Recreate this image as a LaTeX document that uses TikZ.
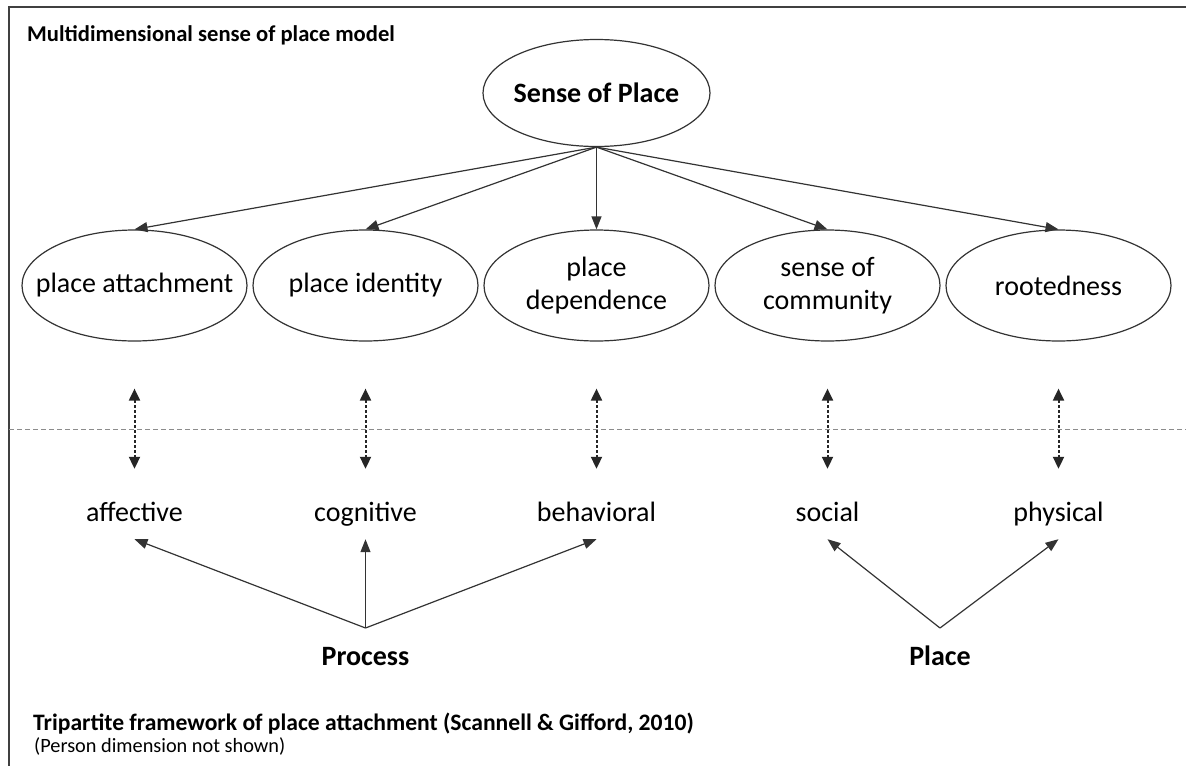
\documentclass[tikz,border=0pt]{standalone}
\usepackage{fontspec}
\setmainfont{Carlito}
\usetikzlibrary{shapes.geometric,arrows.meta}

\tikzset{
    oval/.style={ellipse, draw=black!80, line width=1.2pt, minimum width=225pt,
        minimum height=111pt, inner sep=0pt, align=center,
        font=\fontsize{28}{33}\selectfont},
    dim/.style={font=\fontsize{28}{33}\selectfont, text height=20pt,
        text depth=6pt, inner sep=12pt},
    caption/.style={anchor=base west, inner sep=0pt,
        font=\fontsize{22.6}{22}\selectfont\bfseries},
    link/.style={draw=black!80, line width=1.2pt, -{Triangle[length=13pt,width=10pt]}},
    updown/.style={black!85, line width=2pt, dash pattern=on 3pt off 2pt,
        {Triangle[length=12pt,width=11pt]}-{Triangle[length=12pt,width=11pt]},
        shorten <=47pt, shorten >=20pt},
}

\begin{document}
\begin{tikzpicture}[x=1pt, y=-1pt]
        \useasboundingbox (0,0) rectangle (1186,766);
        \draw[black!75, line width=1.5pt] (1186,7) -- (9,7) -- (9,766);

        \node[caption] (title) at (27,41) {Multidimensional sense of place model};

        \node[oval, font=\fontsize{28}{33}\selectfont\bfseries, minimum width=227pt,
            minimum height=107pt] (sop) at (596.5,93) {\makebox[0pt]{Sense of Place}};

        \node[oval] (pa) at (134.5,285.5) {\makebox[0pt]{place attachment}};
        \node[oval, right of=pa, node distance=231pt] (pi) {\makebox[0pt]{place identity}};
        \node[oval, right of=pi, node distance=231pt] (pd) {place\\dependence};
        \node[oval, right of=pd, node distance=231pt] (sc) {sense of\\community};
        \node[oval, right of=sc, node distance=231pt] (rt) {rootedness};

        \node[dim, below of=pa, node distance=228.5pt] (aff) {affective};
        \node[dim, below of=pi, node distance=228.5pt] (cog) {cognitive};
        \node[dim, below of=pd, node distance=228.5pt] (beh) {behavioral};
        \node[dim, below of=sc, node distance=228.5pt] (soc) {social};
        \node[dim, below of=rt, node distance=228.5pt] (phy) {physical};

        \node[dim, font=\fontsize{28}{33}\selectfont\bfseries, below of=cog,
            node distance=144pt] (proc) {Process};
        \node[dim, font=\fontsize{28}{33}\selectfont\bfseries] (plc) at (940,658) {Place};
        \coordinate[above of=proc, node distance=30pt] (proc_top);
        \coordinate[above of=plc, node distance=30pt] (plc_top);

        % divider between the two models
        \coordinate (div_l) at (9,429);
        \coordinate (div_r) at (1186,429);
        \draw[black!45, line width=1pt, dash pattern=on 5pt off 3pt] (div_l) -- (div_r);

        \draw[link] (sop.south) -- (pa.north);
        \draw[link] (sop.south) -- (pi.north);
        \draw[link] (sop.south) -- (pd.north);
        \draw[link] (sop.south) -- (sc.north);
        \draw[link] (sop.south) -- (rt.north);

        \draw[updown] (pa) -- (aff);
        \draw[updown] (pi) -- (cog);
        \draw[updown] (pd) -- (beh);
        \draw[updown] (sc) -- (soc);
        \draw[updown] (rt) -- (phy);

        \draw[link] (proc_top) -- (aff.south);
        \draw[link] (proc_top) -- (cog.south);
        \draw[link] (proc_top) -- (beh.south);
        \draw[link] (plc_top) -- (soc.south);
        \draw[link] (plc_top) -- (phy.south);

        \node[caption, font=\fontsize{23.6}{22}\selectfont\bfseries] (foot) at (33,730)
            {Tripartite framework of place attachment (Scannell \& Gifford, 2010)};
        \node[caption, font=\fontsize{20.3}{22}\selectfont] (foot2) at (34,752)
            {(Person dimension not shown)};
    \end{tikzpicture}
\end{document}
